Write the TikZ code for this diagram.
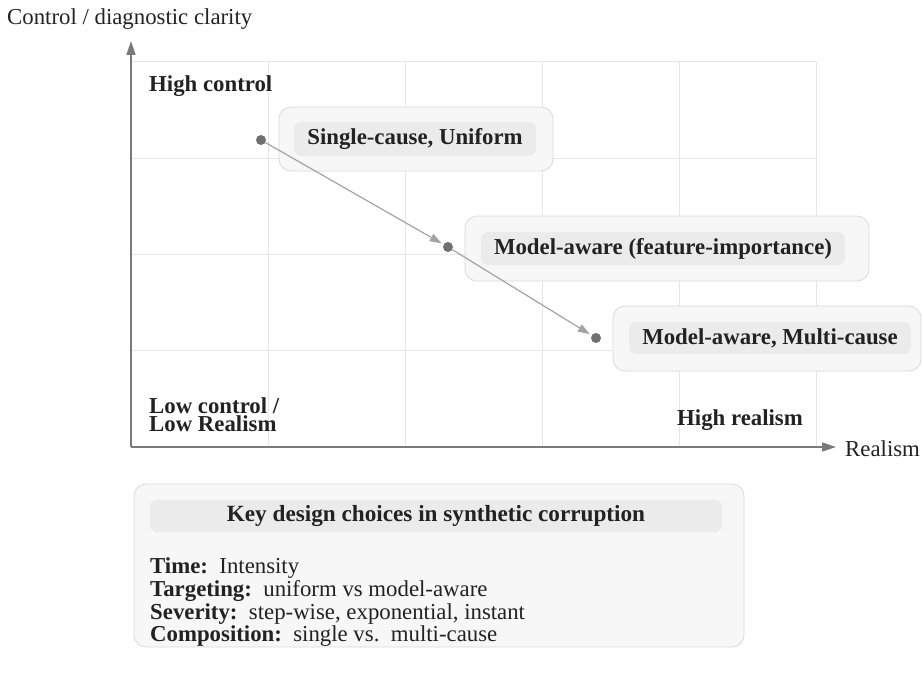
\documentclass[tikz,border=0pt]{standalone}
\usepackage{fontspec}
\setmainfont{Liberation Serif}
\usetikzlibrary{arrows.meta}
\definecolor{axisgray}{HTML}{7A7A7A}
\definecolor{gridgray}{HTML}{E6E6E6}
\definecolor{dotgray}{HTML}{707070}
\definecolor{conngray}{HTML}{A3A3A3}
\definecolor{outerfill}{HTML}{F7F7F7}
\definecolor{outerdraw}{HTML}{DADADA}
\definecolor{innerfill}{HTML}{EBEBEB}
\definecolor{txt}{HTML}{222222}
\begin{document}
\begin{tikzpicture}[x=1pt,y=-1pt,
  every node/.style={text=txt,font=\fontsize{22.8}{24}\selectfont},
  gridline/.style={draw=gridgray,line width=1pt},
  axisline/.style={draw=axisgray,line width=1.5pt,-{Triangle[length=14pt,width=9pt]}},
  dotnode/.style={circle,fill=dotgray,inner sep=0pt,minimum size=10pt},
  conn/.style={draw=conngray,line width=1.2pt,-{Triangle[length=12pt,width=8pt]},shorten >=2pt},
  outerbox/.style={draw=outerdraw,fill=outerfill,rounded corners=12pt,line width=0.8pt,inner sep=0pt},
  innerbox/.style={fill=innerfill,rounded corners=7pt,inner sep=0pt,font=\fontsize{22.8}{24}\selectfont\bfseries},
  cornerlabel/.style={font=\fontsize{22.8}{17.8}\selectfont\bfseries,align=left,inner sep=0pt},
  plain/.style={inner sep=0pt}
]
\useasboundingbox (0,0) rectangle (923,674);
% grid
\foreach \x in {268,405,542,679,816} \draw[gridline] (\x,62) -- (\x,447);
\foreach \y in {62,158.25,254.5,350.75} \draw[gridline] (131,\y) -- (816,\y);
% axes
\coordinate (o) at (131,447);
\coordinate (xend) at (836,447);
\coordinate (yend) at (131,41);
\draw[axisline] (o) -- (xend);
\draw[axisline] (o) -- (yend);
\node[plain,anchor=west] (xlab) at (845,449) {Realism};
\node[plain,anchor=west] (ylab) at (7,19) {Control / diagnostic clarity};
% corner labels
\node[cornerlabel,anchor=west] (hc) at (149,86) {High control};
\node[cornerlabel,anchor=west] (lc) at (149,415) {Low control /\\Low Realism};
\node[cornerlabel,anchor=west] (hr) at (677,420) {High realism};
% boxes
\node[outerbox,minimum width=274pt,minimum height=64pt] (b1) at (416,139) {};
\node[innerbox,minimum width=242pt,minimum height=34pt] (t1) at (415,139) {Single-cause, Uniform};
\node[outerbox,minimum width=404pt,minimum height=65pt] (b2) at (667,248.5) {};
\node[innerbox,minimum width=364pt,minimum height=33pt] (t2) at (663,248.5) {Model-aware (feature-importance)};
\node[outerbox,minimum width=308pt,minimum height=65pt] (b3) at (767,338.5) {};
\node[innerbox,minimum width=282pt,minimum height=32pt] (t3) at (770,338) {Model-aware, Multi-cause};
% points
\node[dotnode] (p1) at (261,140) {};
\node[dotnode] (p2) at (448,247) {};
\node[dotnode] (p3) at (596,338) {};
\draw[conn] (p1) -- (p2);
\draw[conn] (p2) -- (p3);
% bottom box
\node[outerbox,minimum width=610pt,minimum height=163pt] (kb) at (439,565.5) {};
\node[innerbox,minimum width=572pt,minimum height=32pt,font=\fontsize{23.2}{24}\selectfont\bfseries] (kt) at (436,516) {Key design choices in synthetic corruption};
\node[plain,anchor=west] (l1) at (150,568) {\textbf{Time:}\ \ Intensity};
\node[plain,anchor=west] (l2) at (150,591) {\textbf{Targeting:}\ \ uniform vs model-aware};
\node[plain,anchor=west] (l3) at (150,614) {\textbf{Severity:}\ \ step-wise, exponential, instant};
\node[plain,anchor=west] (l4) at (150,636) {\textbf{Composition:}\ \ single vs.\ \ multi-cause};
\end{tikzpicture}
\end{document}
